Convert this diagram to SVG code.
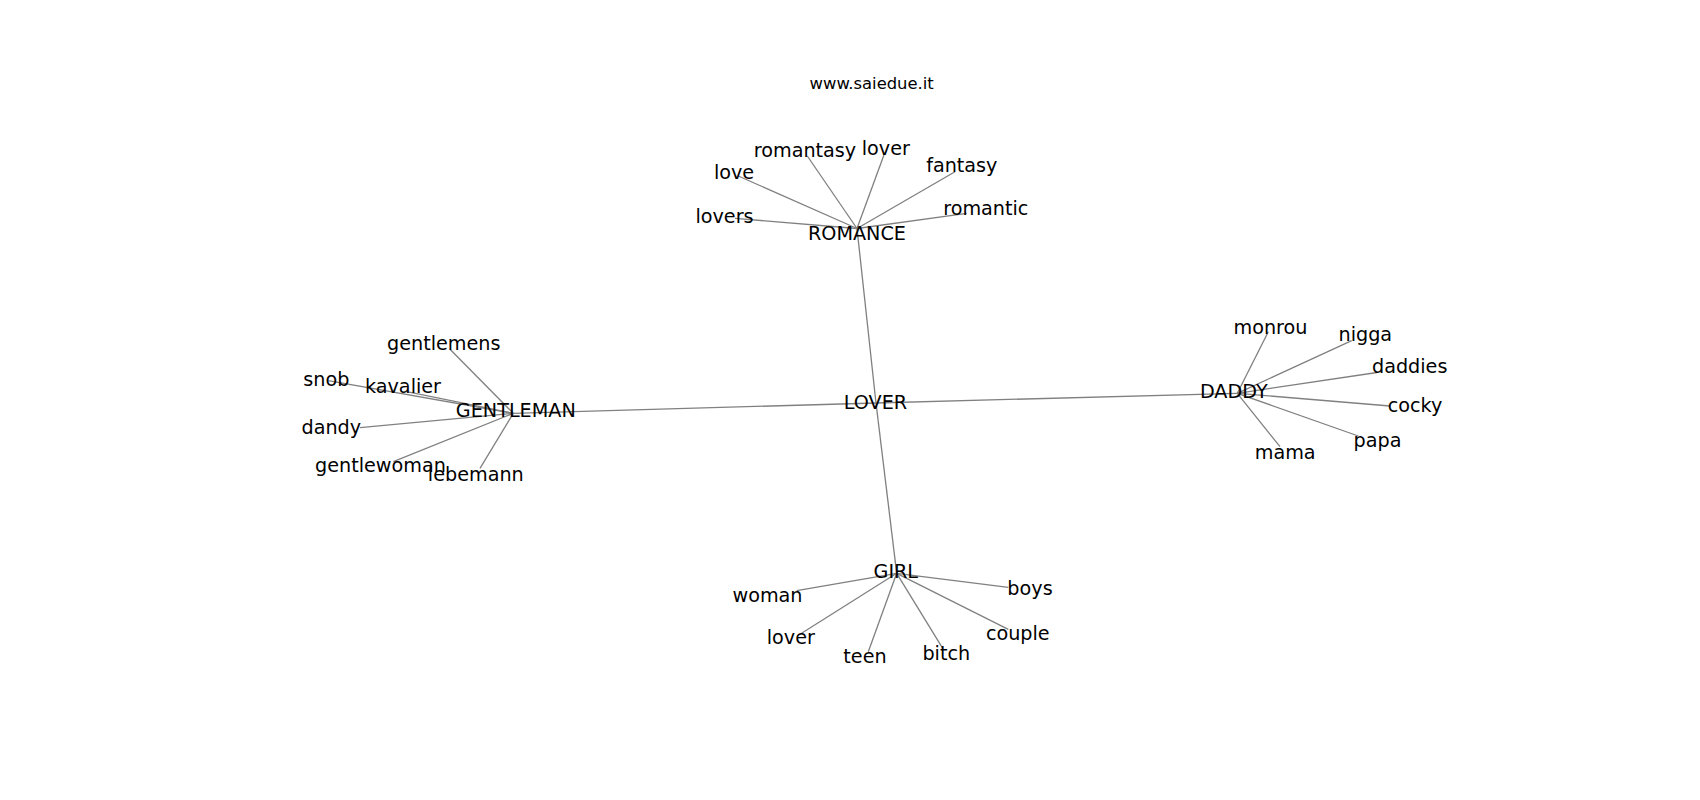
<svg xmlns="http://www.w3.org/2000/svg" width="1700" height="800" viewBox="0 0 1700 800">
<style>
.e{stroke:#808080;stroke-width:1.3;fill:none}
.t{font-family:"DejaVu Sans","Liberation Sans",sans-serif;font-size:19.2px;fill:#000;text-anchor:middle}
.h{font-family:"DejaVu Sans","Liberation Sans",sans-serif;font-size:16.4px;fill:#000;text-anchor:middle}
</style>
<rect width="1700" height="800" fill="#fff"/>
<text class="h" x="871.7" y="89">www.saiedue.it</text>
<g id="edges">
<line class="e" x1="876" y1="403" x2="857" y2="228.5"/>
<line class="e" x1="876" y1="403" x2="513.3" y2="413.3"/>
<line class="e" x1="876" y1="403" x2="1237.3" y2="393.3"/>
<line class="e" x1="876" y1="403" x2="896.7" y2="573.3"/>
<line class="e" x1="857" y1="228.5" x2="738.3" y2="176"/>
<line class="e" x1="857" y1="228.5" x2="807.3" y2="156"/>
<line class="e" x1="857" y1="228.5" x2="884.3" y2="154"/>
<line class="e" x1="857" y1="228.5" x2="955" y2="171.7"/>
<line class="e" x1="857" y1="228.5" x2="966.7" y2="213.3"/>
<line class="e" x1="857" y1="228.5" x2="735" y2="218.3"/>
<line class="e" x1="513.3" y1="413.3" x2="450" y2="349.3"/>
<line class="e" x1="513.3" y1="413.3" x2="328.3" y2="380.7"/>
<line class="e" x1="513.3" y1="413.3" x2="406.7" y2="391.7"/>
<line class="e" x1="513.3" y1="413.3" x2="360" y2="427.7"/>
<line class="e" x1="513.3" y1="413.3" x2="393.3" y2="461.7"/>
<line class="e" x1="513.3" y1="413.3" x2="480" y2="468.3"/>
<line class="e" x1="1237.3" y1="393.3" x2="1268.3" y2="331.7"/>
<line class="e" x1="1237.3" y1="393.3" x2="1351.7" y2="340.7"/>
<line class="e" x1="1237.3" y1="393.3" x2="1377" y2="372.5"/>
<line class="e" x1="1237.3" y1="393.3" x2="1390" y2="406"/>
<line class="e" x1="1237.3" y1="393.3" x2="1358.3" y2="436"/>
<line class="e" x1="1237.3" y1="393.3" x2="1280" y2="446.7"/>
<line class="e" x1="896.7" y1="573.3" x2="796.7" y2="590.7"/>
<line class="e" x1="896.7" y1="573.3" x2="800" y2="634.3"/>
<line class="e" x1="896.7" y1="573.3" x2="868.3" y2="651.7"/>
<line class="e" x1="896.7" y1="573.3" x2="942.7" y2="648.3"/>
<line class="e" x1="896.7" y1="573.3" x2="1008.3" y2="629.3"/>
<line class="e" x1="896.7" y1="573.3" x2="1008.3" y2="587.3"/>
</g>
<g id="n-lover-main"><text class="t" x="875.5" y="409.3">LOVER</text></g>
<g id="n-romance"><text class="t" x="857" y="240">ROMANCE</text></g>
<g id="n-gentleman"><text class="t" x="515.8" y="416.7">GENTLEMAN</text></g>
<g id="n-daddy"><text class="t" x="1233.8" y="398.3">DADDY</text></g>
<g id="n-girl"><text class="t" x="895.8" y="578.3">GIRL</text></g>
<g id="n-love"><text class="t" x="734" y="179">love</text></g>
<g id="n-romantasy"><text class="t" x="805" y="156.7">romantasy</text></g>
<g id="n-lover-r"><text class="t" x="885.8" y="155">lover</text></g>
<g id="n-fantasy"><text class="t" x="961.8" y="171.7">fantasy</text></g>
<g id="n-romantic"><text class="t" x="985.8" y="215">romantic</text></g>
<g id="n-lovers"><text class="t" x="724.5" y="222.7">lovers</text></g>
<g id="n-gentlemens"><text class="t" x="443.8" y="350">gentlemens</text></g>
<g id="n-snob"><text class="t" x="326.3" y="385.7">snob</text></g>
<g id="n-kavalier"><text class="t" x="403" y="393.3">kavalier</text></g>
<g id="n-dandy"><text class="t" x="331.3" y="434">dandy</text></g>
<g id="n-gentlewoman"><text class="t" x="380.5" y="471.7">gentlewoman</text></g>
<g id="n-lebemann"><text class="t" x="475.8" y="480.5">lebemann</text></g>
<g id="n-monrou"><text class="t" x="1270.5" y="334.3">monrou</text></g>
<g id="n-nigga"><text class="t" x="1365.3" y="340.7">nigga</text></g>
<g id="n-daddies"><text class="t" x="1409.7" y="373.3">daddies</text></g>
<g id="n-cocky"><text class="t" x="1415" y="412">cocky</text></g>
<g id="n-papa"><text class="t" x="1377.5" y="447">papa</text></g>
<g id="n-mama"><text class="t" x="1285.2" y="459">mama</text></g>
<g id="n-woman"><text class="t" x="767.5" y="601.7">woman</text></g>
<g id="n-lover-g"><text class="t" x="790.8" y="644.3">lover</text></g>
<g id="n-teen"><text class="t" x="865" y="663.3">teen</text></g>
<g id="n-bitch"><text class="t" x="946.3" y="660">bitch</text></g>
<g id="n-couple"><text class="t" x="1017.8" y="640">couple</text></g>
<g id="n-boys"><text class="t" x="1030" y="595">boys</text></g>
</svg>
